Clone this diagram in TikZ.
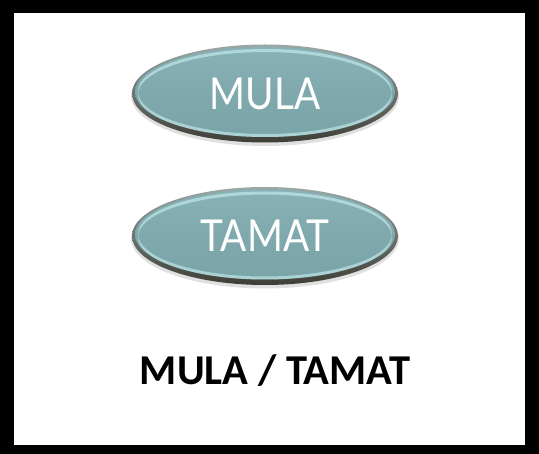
\documentclass[tikz,border=0pt]{standalone}
\usepackage{fontspec}
\setmainfont{Carlito}
\newfontfamily\ellfont[FakeStretch=0.88]{Lato}
\usetikzlibrary{shapes.geometric}

\definecolor{rimtop}{HTML}{9AA8A6}
\definecolor{rimbot}{HTML}{3E3E36}
\definecolor{bodytop}{HTML}{88B3B6}
\definecolor{bodymid}{HTML}{7FA9AC}
\definecolor{bodybot}{HTML}{7AA5A8}
\definecolor{glint}{HTML}{D2F6F8}

\tikzset{
  btn/.style={
    ellipse, minimum width=266pt, minimum height=98pt, inner sep=0pt,
    font=\ellfont\fontsize{44}{44}\selectfont, text=white,
    path picture={
      % dark rim of the bevelled button
      \shade[top color=rimtop, bottom color=rimbot]
        (path picture bounding box.south west) rectangle
        (path picture bounding box.north east);
      % teal body, lifted a little so the rim is heavier below
      \shade[top color=bodytop, bottom color=bodybot, middle color=bodymid]
        ([yshift=1.5pt]path picture bounding box.center)
        ellipse [x radius=130pt, y radius=45pt];
      % light crescent along the upper edge
      \fill[glint, opacity=0.55, even odd rule]
        ([yshift=2pt]path picture bounding box.center)
          ellipse [x radius=127pt, y radius=42.5pt]
        ([yshift=-1pt]path picture bounding box.center)
          ellipse [x radius=127pt, y radius=42.5pt];
    }
  },
  caption/.style={font=\bfseries\fontsize{42.5}{42.5}\selectfont, text=black}
}

\begin{document}
\begin{tikzpicture}[x=1pt, y=-1pt]
  \useasboundingbox (0,0) rectangle (539,454);
  % thick black frame
  \fill[black] (0,0) rectangle (539,454);
  \fill[white] (14,13) rectangle (525,445);

  % faint drop shadows under the buttons
  \fill[black, opacity=0.12] (265,96) ellipse [x radius=134, y radius=50];
  \fill[black, opacity=0.12] (265,238.5) ellipse [x radius=134, y radius=50];

  \node[btn] (mula)  at (265,93.5) {MULA};
  \node[btn] (tamat) at (265,236)  {TAMAT};

  \node[caption, anchor=base] (label) at (275,385) {MULA / TAMAT};
\end{tikzpicture}
\end{document}
